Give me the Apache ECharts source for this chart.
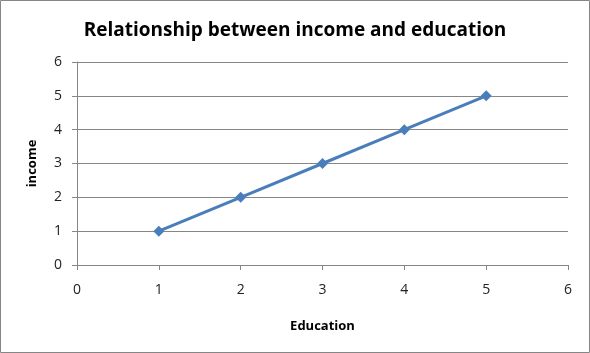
<!DOCTYPE html>
<html><head><meta charset="utf-8">
<script src="https://cdn.jsdelivr.net/npm/echarts@6/dist/echarts.min.js"></script>
<style>html,body{margin:0;padding:0;background:#fff}#c{width:590px;height:353px}</style>
</head><body><div id="c"></div>
<script>
const titleText = 'Relationship between income and education';
const xName = 'Education';
const yName = 'income';
const education = [1, 2, 3, 4, 5];
const income = [1, 2, 3, 4, 5];
const xMin = 0, xMax = 6, yMin = 0, yMax = 6;

const chart = echarts.init(document.getElementById('c'));
const axisColor = '#868686';
const font = 'Open Sans';
chart.setOption({
  animation: false,
  title: {text: titleText, left: 'center', top: 16,
    textStyle: {fontFamily: font, fontWeight: 'bold', fontSize: 19, color: '#000'}},
  grid: {left: 77, right: 22, top: 62, bottom: 88},
  graphic: [{type: 'rect', shape: {x: 0.5, y: 0.5, width: 589, height: 352},
    style: {fill: 'none', stroke: axisColor, lineWidth: 1}, silent: true}],
  xAxis: {type: 'value', min: xMin, max: xMax, interval: 1,
    name: xName, nameLocation: 'middle', nameGap: 55,
    nameTextStyle: {fontFamily: font, fontWeight: 'bold', fontSize: 13, color: '#000'},
    axisLine: {show: true, lineStyle: {color: axisColor}},
    axisTick: {show: true, length: 5, lineStyle: {color: axisColor}},
    axisLabel: {margin: 18, fontFamily: font, fontSize: 14, color: '#222'},
    splitLine: {show: false}},
  yAxis: {type: 'value', min: yMin, max: yMax, interval: 1,
    name: yName, nameLocation: 'middle', nameGap: 38, nameRotate: 90,
    nameTextStyle: {fontFamily: font, fontWeight: 'bold', fontSize: 13, color: '#000'},
    axisLine: {show: true, lineStyle: {color: axisColor}},
    axisTick: {show: true, length: 5, lineStyle: {color: axisColor}},
    axisLabel: {margin: 15, fontFamily: font, fontSize: 14, color: '#222'},
    splitLine: {show: true, lineStyle: {color: axisColor, width: 1}}},
  series: [{type: 'line', data: education.map((x, i) => [x, income[i]]),
    symbol: 'diamond', symbolSize: 11, showSymbol: true,
    lineStyle: {color: '#4A7EBB', width: 3},
    itemStyle: {color: '#4A7EBB'}}]
});
</script></body></html>
